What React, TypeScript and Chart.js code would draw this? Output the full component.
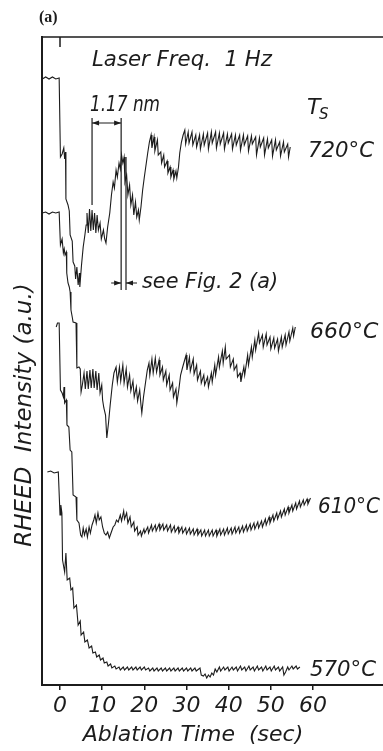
import React, { useEffect, useRef } from 'react';
import { Chart, registerables } from 'chart.js';

Chart.register(...registerables);

// x: ablation time (s), y: RHEED intensity (a.u., arbitrary offset per trace)
const tickValues = [0, 10, 20, 30, 40, 50, 60];

const trace720: [number, number][] = [
  [-4.2, 606], [-3.4, 608], [-2.6, 606], [-1.8, 608], [-1.0, 606], [-0.2, 607], [0.1, 528], [0.5, 531], [0.9, 537], [1.1, 526],
  [1.3, 533], [1.4, 486], [1.9, 480], [2.2, 474], [2.4, 450], [2.9, 444], [3.1, 423], [3.5, 419], [3.7, 406], [4.0, 418],
  [4.3, 400], [4.6, 412], [4.7, 398], [5.1, 420], [5.5, 438], [5.9, 450], [6.2, 460], [6.4, 472], [6.7, 452], [7.0, 476],
  [7.3, 454], [7.6, 475], [7.9, 455], [8.2, 472], [8.5, 452], [8.8, 470], [9.1, 455], [9.5, 462], [9.8, 446], [10.3, 455],
  [10.6, 446], [10.9, 442], [11.3, 458], [11.8, 472], [12.2, 490], [12.6, 503], [12.9, 497], [13.3, 515], [13.6, 508], [14.0, 522],
  [14.3, 516], [14.6, 530], [14.9, 522], [15.2, 528], [15.4, 503], [15.8, 510], [16.1, 490], [16.5, 500], [16.8, 480], [17.2, 490],
  [17.5, 470], [17.9, 483], [18.2, 468], [18.6, 475], [18.8, 465], [19.2, 478], [19.6, 495], [20.0, 508], [20.4, 520], [20.8, 532],
  [21.2, 543], [21.6, 550], [21.8, 537], [22.3, 548], [22.5, 534], [23.1, 545], [23.3, 530], [23.9, 533], [24.1, 522], [24.6, 530],
  [24.8, 518], [25.4, 524], [25.6, 512], [26.1, 518], [26.3, 508], [26.8, 515], [27.0, 506], [27.5, 514], [27.7, 507], [28.1, 518],
  [28.4, 532], [28.8, 543], [29.2, 550], [29.6, 555], [29.8, 541], [30.4, 553], [30.6, 542], [31.3, 553], [31.5, 540], [32.2, 550],
  [32.4, 538], [33.1, 550], [33.3, 536], [34.0, 551], [34.2, 540], [35.0, 552], [35.2, 536], [35.9, 553], [36.1, 542], [36.9, 553],
  [37.1, 537], [37.8, 552], [38.0, 541], [38.8, 552], [39.0, 536], [39.7, 551], [39.9, 542], [40.7, 551], [40.9, 536], [41.6, 550],
  [41.8, 540], [42.6, 550], [42.8, 535], [43.5, 550], [43.7, 540], [44.5, 549], [44.7, 534], [45.4, 549], [45.6, 541], [46.4, 548],
  [46.6, 530], [47.3, 547], [47.5, 538], [48.3, 547], [48.5, 530], [49.2, 546], [49.4, 537], [50.2, 545], [50.4, 529], [51.1, 545],
  [51.3, 535], [52.1, 543], [52.3, 529], [53.0, 543], [53.2, 533], [54.0, 541], [54.2, 528], [54.6, 538],
];

const trace660: [number, number][] = [
  [-4.2, 472], [-3.4, 473], [-2.6, 471], [-1.8, 473], [-1.0, 472], [-0.2, 473], [0.1, 440], [0.5, 446], [0.8, 432], [1.0, 436],
  [1.2, 430], [1.5, 433], [1.6, 412], [1.9, 402], [2.2, 398], [2.4, 393], [2.6, 375], [2.9, 368], [3.1, 363], [3.8, 362],
  [4.0, 317], [4.5, 318], [4.8, 316], [5.0, 293], [5.3, 300], [5.7, 312], [6.0, 296], [6.4, 314], [6.7, 296], [7.1, 315],
  [7.4, 297], [7.8, 316], [8.1, 297], [8.5, 314], [8.8, 295], [9.2, 312], [9.5, 292], [9.9, 300], [10.1, 285], [10.4, 277],
  [10.8, 270], [11.1, 247], [11.5, 262], [11.9, 280], [12.4, 300], [12.8, 312], [13.3, 318], [13.6, 303], [14.1, 318], [14.4, 304],
  [14.9, 320], [15.2, 302], [15.7, 316], [16.0, 298], [16.5, 310], [16.8, 294], [17.3, 304], [17.6, 288], [18.1, 298], [18.4, 284],
  [18.9, 295], [19.2, 280], [19.4, 272], [19.8, 288], [20.2, 300], [20.7, 315], [21.1, 322], [21.3, 310], [21.8, 326], [22.1, 312],
  [22.6, 327], [22.9, 313], [23.5, 325], [23.7, 310], [24.3, 318], [24.5, 305], [25.1, 314], [25.3, 300], [25.9, 310], [26.1, 295],
  [26.7, 302], [26.9, 288], [27.5, 296], [27.7, 282], [28.2, 296], [28.6, 310], [29.1, 318], [29.5, 324], [29.9, 330], [30.1, 315],
  [30.7, 328], [30.9, 314], [31.6, 326], [31.8, 311], [32.4, 320], [32.6, 305], [33.3, 314], [33.5, 302], [34.1, 310], [34.3, 300],
  [35.0, 308], [35.2, 298], [35.9, 312], [36.1, 303], [36.7, 320], [36.9, 310], [37.6, 328], [37.8, 318], [38.5, 334], [38.7, 322],
  [39.2, 338], [39.4, 326], [40.2, 330], [40.4, 318], [41.1, 326], [41.3, 315], [41.9, 320], [42.1, 308], [42.7, 312], [42.9, 303],
  [43.6, 318], [43.8, 310], [44.5, 330], [44.7, 320], [45.4, 338], [45.6, 328], [46.2, 345], [46.4, 335], [47.1, 352], [47.3, 342],
  [48.0, 350], [48.2, 338], [48.9, 351], [49.1, 340], [49.8, 348], [50.0, 336], [50.7, 347], [50.9, 337], [51.6, 346], [51.8, 334],
  [52.5, 348], [52.7, 338], [53.4, 350], [53.6, 340], [54.3, 353], [54.5, 344], [55.2, 357], [55.4, 349], [55.8, 358],
];

const trace610: [number, number][] = [
  [-0.9, 358], [-0.6, 362], [-0.2, 362], [0.1, 295], [0.5, 292], [0.8, 288], [0.95, 298], [1.1, 282], [1.5, 285], [1.65, 260],
  [2.1, 258], [2.4, 235], [2.8, 233], [3.1, 190], [3.8, 188], [4.0, 165], [4.5, 162], [4.9, 150], [5.2, 148], [5.5, 157],
  [5.8, 150], [6.2, 156], [6.5, 148], [6.9, 158], [7.2, 152], [7.6, 160], [8.0, 165], [8.3, 170], [8.6, 162], [9.0, 172],
  [9.3, 165], [9.7, 168], [10.1, 158], [10.5, 152], [10.9, 150], [11.3, 153], [11.7, 147], [12.1, 152], [12.6, 158], [13.0, 160],
  [13.4, 165], [13.8, 163], [14.3, 170], [14.6, 164], [15.1, 174], [15.3, 166], [15.8, 172], [16.1, 162], [16.6, 168], [16.9, 158],
  [17.5, 163], [17.7, 154], [18.3, 158], [18.5, 150], [19.1, 154], [19.3, 149], [19.9, 156], [20.1, 152], [20.8, 158], [21.0, 152],
  [21.7, 160], [21.9, 154], [22.6, 160], [22.8, 154], [23.5, 161], [23.7, 155], [24.4, 161], [24.6, 155], [25.3, 160], [25.5, 154],
  [26.2, 160], [26.4, 153], [27.1, 159], [27.3, 153], [28.0, 158], [28.2, 152], [28.9, 158], [29.1, 152], [29.8, 157], [30.0, 151],
  [30.7, 157], [30.9, 151], [31.6, 156], [31.8, 150], [32.5, 156], [32.7, 150], [33.4, 155], [33.6, 149], [34.3, 155], [34.5, 149],
  [35.2, 155], [35.4, 149], [36.1, 155], [36.3, 149], [37.0, 155], [37.2, 149], [37.9, 156], [38.1, 150], [38.8, 156], [39.0, 150],
  [39.7, 157], [39.9, 151], [40.6, 157], [40.8, 151], [41.5, 158], [41.7, 152], [42.4, 158], [42.6, 152], [43.3, 159], [43.5, 153],
  [44.2, 160], [44.4, 154], [45.1, 161], [45.3, 155], [46.0, 162], [46.2, 156], [46.9, 163], [47.1, 157], [47.8, 164], [48.0, 158],
  [48.7, 166], [48.9, 160], [49.6, 168], [49.8, 162], [50.5, 170], [50.7, 164], [51.4, 172], [51.6, 166], [52.3, 174], [52.5, 168],
  [53.2, 176], [53.4, 170], [54.1, 178], [54.3, 172], [55.0, 180], [55.2, 174], [55.9, 182], [56.1, 176], [56.8, 184], [57.0, 178],
  [57.7, 185], [57.9, 180], [58.6, 186], [58.8, 181], [59.4, 187],
];

const trace570: [number, number][] = [
  [-3.0, 213], [-2.2, 214], [-1.4, 212], [-0.4, 213], [0.0, 170], [0.2, 180], [0.45, 172], [0.6, 125], [1.1, 113], [1.4, 132],
  [1.7, 105], [2.3, 107], [2.6, 95], [3.0, 97], [3.3, 77], [3.9, 80], [4.3, 60], [4.8, 64], [5.0, 50], [5.6, 53],
  [5.9, 43], [6.5, 45], [6.9, 37], [7.5, 39], [7.8, 32], [8.4, 33], [8.7, 28], [9.3, 30], [9.6, 25], [10.2, 27],
  [10.5, 22], [11.1, 23], [11.4, 19], [12.0, 21], [12.3, 17], [13.0, 19], [13.3, 16], [14.0, 18], [14.3, 15], [15.0, 18],
  [15.3, 15], [16.0, 18], [16.3, 15], [17.0, 18], [17.3, 15], [18.0, 18], [18.3, 15], [19.0, 18], [19.3, 15], [20.0, 18],
  [20.3, 15], [21.0, 17], [21.3, 14], [22.0, 17], [22.3, 14], [23.0, 17], [23.3, 14], [24.0, 17], [24.3, 14], [25.0, 17],
  [25.3, 14], [26.0, 17], [26.3, 14], [27.0, 17], [27.3, 14], [28.0, 17], [28.3, 14], [29.0, 17], [29.3, 14], [30.0, 17],
  [30.3, 14], [31.0, 17], [31.3, 14], [32.0, 17], [32.3, 14], [33.2, 17], [33.5, 10], [34.0, 9], [34.4, 11], [34.8, 7],
  [35.2, 10], [35.6, 8], [36.0, 12], [36.4, 10], [36.8, 16], [37.2, 13], [37.8, 18], [38.1, 14], [38.8, 18], [39.1, 15],
  [39.8, 18], [40.1, 14], [40.8, 18], [41.1, 15], [41.8, 18], [42.1, 14], [42.8, 19], [43.1, 15], [43.8, 18], [44.1, 14],
  [44.8, 19], [45.1, 15], [45.8, 18], [46.1, 14], [46.8, 19], [47.1, 15], [47.8, 18], [48.1, 14], [48.8, 19], [49.1, 15],
  [49.8, 18], [50.1, 14], [50.8, 19], [51.1, 15], [51.8, 18], [52.1, 14], [52.8, 18], [53.1, 10], [53.5, 13], [54.0, 18],
  [54.3, 15], [55.0, 19], [55.3, 16], [56.0, 19], [56.3, 16], [56.9, 18],
];

const seriesLabels = ['720°C', '660°C', '610°C', '570°C'];

// 1.17 nm dimension marks (time in s, intensity in a.u.)
const dimTimes = [7.6, 14.5];
const dimTop = 567;
const dimBottoms = [480, 395];
const dimArrowLevel = 562;
const figMarkTimes = [14.5, 15.65];
const figMarkTop = 528;
const figMarkBottom = 395;
const figArrowLevel = 402;

export default function App() {
  const ref = useRef<HTMLCanvasElement>(null);

  useEffect(() => {
    const canvas = ref.current;
    if (!canvas) return;
    const ink = '#1c1c1c';
    const fam = "'DejaVu Sans', 'Liberation Sans', sans-serif";

    const arrowHead = (ctx: CanvasRenderingContext2D, x: number, y: number, dir: number) => {
      ctx.beginPath();
      ctx.moveTo(x, y);
      ctx.lineTo(x - dir * 7, y - 2.5);
      ctx.lineTo(x - dir * 7, y + 2.5);
      ctx.closePath();
      ctx.fill();
    };

    const decor = {
      id: 'decor',
      beforeDraw(chart: any) {
        const c = chart.ctx;
        c.save();
        c.fillStyle = '#fff';
        c.fillRect(0, 0, chart.width, chart.height);
        c.restore();
      },
      afterDraw(chart: any) {
        const c: CanvasRenderingContext2D = chart.ctx;
        const xs = chart.scales.x;
        const ys = chart.scales.y;
        const area = chart.chartArea;
        c.save();
        c.strokeStyle = ink;
        c.fillStyle = ink;
        // top frame line and t=0 mark
        c.lineWidth = 1.5;
        c.beginPath();
        c.moveTo(area.left, area.top);
        c.lineTo(area.right, area.top);
        const x0 = xs.getPixelForValue(0);
        c.moveTo(x0, area.top);
        c.lineTo(x0, area.top + 10);
        c.stroke();

        // dimension lines
        c.lineWidth = 1.2;
        c.beginPath();
        dimTimes.forEach((t, i) => {
          const px = xs.getPixelForValue(t);
          c.moveTo(px, ys.getPixelForValue(dimTop));
          c.lineTo(px, ys.getPixelForValue(dimBottoms[i]));
        });
        const xa = xs.getPixelForValue(dimTimes[0]);
        const xb = xs.getPixelForValue(dimTimes[1]);
        const ya = ys.getPixelForValue(dimArrowLevel);
        c.moveTo(xa, ya);
        c.lineTo(xb, ya);
        const xc = xs.getPixelForValue(figMarkTimes[1]);
        c.moveTo(xc, ys.getPixelForValue(figMarkTop));
        c.lineTo(xc, ys.getPixelForValue(figMarkBottom));
        const yf = ys.getPixelForValue(figArrowLevel);
        c.moveTo(xb - 10, yf);
        c.lineTo(xb, yf);
        c.moveTo(xc, yf);
        c.lineTo(xc + 11, yf);
        c.stroke();
        arrowHead(c, xa, ya, -1);
        arrowHead(c, xb, ya, 1);
        arrowHead(c, xb, yf, 1);
        arrowHead(c, xc, yf, -1);

        // texts
        c.textBaseline = 'middle';
        c.textAlign = 'left';
        c.font = `bold 16px 'Liberation Serif', serif`;
        c.fillText('(a)', 39, 18);

        c.font = `italic 22px ${fam}`;
        c.fillText('Laser Freq.  1 Hz', 92, 60, 180);
        c.font = `italic 21px ${fam}`;
        c.fillText('1.17 nm', 90, 106, 70);
        c.font = `italic 22px ${fam}`;
        c.fillText('T', 307, 108);
        c.font = `italic 15px ${fam}`;
        c.fillText('S', 319, 115);

        c.font = `italic 22px ${fam}`;
        c.fillText(seriesLabels[0], 308, 151, 66);
        c.fillText(seriesLabels[1], 310, 332, 70);
        c.fillText(seriesLabels[2], 318, 507, 62);
        c.fillText(seriesLabels[3], 310, 670, 66);

        c.font = `italic 21px ${fam}`;
        c.fillText('see Fig. 2 (a)', 142, 283, 136);

        c.textAlign = 'center';
        c.font = `italic 22px ${fam}`;
        c.fillText('Ablation Time  (sec)', 193, 735, 224);

        c.translate(25, 415);
        c.rotate(-Math.PI / 2);
        c.font = `italic 23px ${fam}`;
        c.fillText('RHEED  Intensity (a.u.)', 0, 0, 266);
        c.restore();
      },
    };

    const mk = (label: string, d: [number, number][]) => ({
      label,
      data: d.map(([x, y]) => ({ x, y })),
      borderColor: ink,
      borderWidth: 1.1,
      pointRadius: 0,
      fill: false,
      tension: 0,
    });

    const chart = new Chart(canvas, {
      type: 'line',
      data: {
        datasets: [
          mk(seriesLabels[0], trace720),
          mk(seriesLabels[1], trace660),
          mk(seriesLabels[2], trace610),
          mk(seriesLabels[3], trace570),
        ],
      },
      options: {
        animation: false,
        responsive: false,
        events: [],
        layout: { padding: { top: 37, left: 0, right: 0, bottom: 0 } },
        plugins: { legend: { display: false }, tooltip: { enabled: false } },
        scales: {
          x: {
            type: 'linear',
            min: -4.27,
            max: 76.6,
            afterBuildTicks: (s: any) => {
              s.ticks = tickValues.map((v) => ({ value: v }));
            },
            afterFit: (s: any) => {
              s.height = 66;
            },
            ticks: {
              font: { family: fam, size: 22, style: 'italic' },
              color: ink,
              padding: 3,
              maxRotation: 0,
              autoSkip: false,
            },
            grid: { drawOnChartArea: false, drawTicks: true, tickLength: 5, color: ink, lineWidth: 1.5 },
            border: { color: ink, width: 2 },
          },
          y: {
            type: 'linear',
            min: 0,
            max: 648,
            afterFit: (s: any) => {
              s.width = 42;
            },
            ticks: { display: false },
            grid: { drawOnChartArea: false, drawTicks: false },
            border: { color: ink, width: 2 },
          },
        },
      } as any,
      plugins: [decor],
    });
    return () => chart.destroy();
  }, []);

  return (
    <canvas
      ref={ref}
      width={383}
      height={751}
      style={{ position: 'absolute', left: 0, top: 0, display: 'block' }}
    />
  );
}
